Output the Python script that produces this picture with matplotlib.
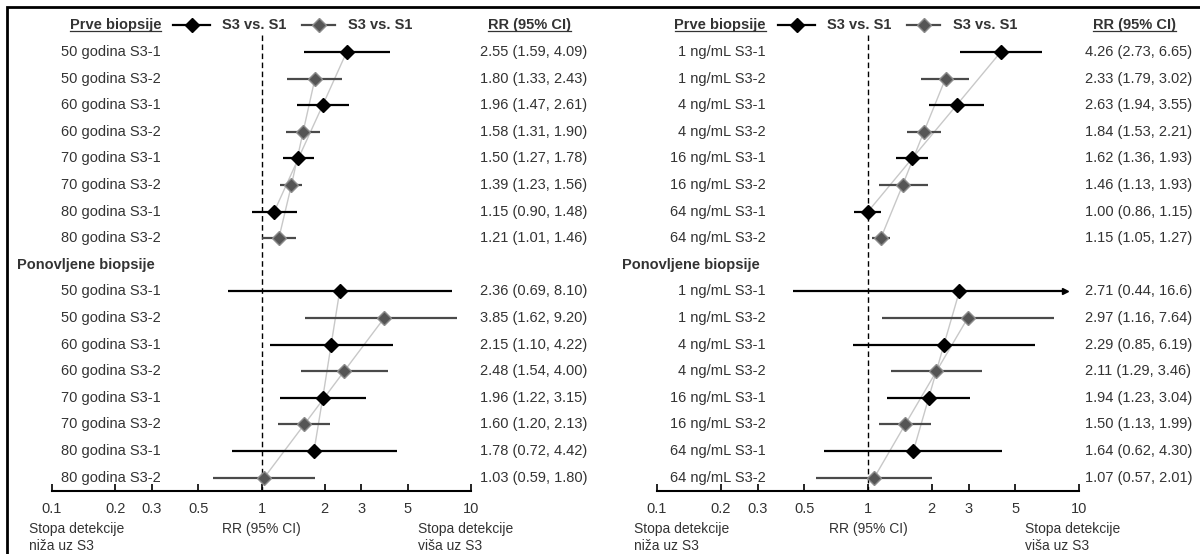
import matplotlib
matplotlib.use('Agg')
import matplotlib.pyplot as plt
from matplotlib.lines import Line2D
from matplotlib.patches import Rectangle
from matplotlib.transforms import IdentityTransform

plt.rcParams['font.family'] = ['Liberation Sans', 'DejaVu Sans']

sections = ['Prve biopsije', 'Ponovljene biopsije']
series = ['S3-1', 'S3-2']
age_groups = ['50 godina', '60 godina', '70 godina', '80 godina']
psa_groups = ['1 ng/mL', '4 ng/mL', '16 ng/mL', '64 ng/mL']
ticks = [0.1, 0.2, 0.3, 0.5, 1, 2, 3, 5, 10]
tick_labels = ['0.1', '0.2', '0.3', '0.5', '1', '2', '3', '5', '10']

# first 8 = Prve biopsije, last 8 = Ponovljene biopsije (S3-1, S3-2 per group)
age_rr = [2.55, 1.80, 1.96, 1.58, 1.50, 1.39, 1.15, 1.21,
          2.36, 3.85, 2.15, 2.48, 1.96, 1.60, 1.78, 1.03]
age_lo = [1.59, 1.33, 1.47, 1.31, 1.27, 1.23, 0.90, 1.01,
          0.69, 1.62, 1.10, 1.54, 1.22, 1.20, 0.72, 0.59]
age_hi = [4.09, 2.43, 2.61, 1.90, 1.78, 1.56, 1.48, 1.46,
          8.10, 9.20, 4.22, 4.00, 3.15, 2.13, 4.42, 1.80]

psa_rr = [4.26, 2.33, 2.63, 1.84, 1.62, 1.46, 1.00, 1.15,
          2.71, 2.97, 2.29, 2.11, 1.94, 1.50, 1.64, 1.07]
psa_lo = [2.73, 1.79, 1.94, 1.53, 1.36, 1.13, 0.86, 1.05,
          0.44, 1.16, 0.85, 1.29, 1.23, 1.13, 0.62, 0.57]
psa_hi = [6.65, 3.02, 3.55, 2.21, 1.93, 1.93, 1.15, 1.27,
          16.6, 7.64, 6.19, 3.46, 3.04, 1.99, 4.30, 2.01]

W, H = 1200, 554
FS = 10.5
TXT = '#333333'
LINE_COL = ['black', '#4a4a4a']
FACE_COL = ['black', '#555555']
EDGE_COL = ['black', '#8c8c8c']
CAP = 8.6   # where a CI beyond the axis gets an arrow

fig = plt.figure(figsize=(W / 100, H / 100), dpi=100)
underline = []


def fmt(v):
    return f'{v:.2f}' if v < 10 else f'{v:.1f}'


def panel(left_px, width_px, groups, rr, lo, hi):
    ax = fig.add_axes([left_px / W, 1 - 491 / H, width_px / W, (491 - 12) / H])
    ax.patch.set_alpha(0)
    fr = lambda px: (px - left_px) / width_px
    yt = ax.get_yaxis_transform()

    for s, sec in enumerate(sections):
        for k in range(2):
            idx = [s * 8 + 2 * g + k for g in range(4)]
            ys = [1 + s * 9 + 2 * g + k for g in range(4)]
            xs = [rr[i] for i in idx]
            ax.plot(xs, ys, color='#c8c8c8', lw=1, zorder=1)
            for i, y in zip(idx, ys):
                ax.hlines(y, lo[i], min(hi[i], CAP), color=LINE_COL[k], lw=1.6, zorder=2)
                if hi[i] > 10:
                    ax.plot(CAP, y, '>', color=LINE_COL[k], ms=5, zorder=2)
            ax.plot(xs, ys, 'D', ms=7.5, mfc=FACE_COL[k], mec=EDGE_COL[k], mew=1, zorder=3)
        for g, grp in enumerate(groups):
            for k, ser in enumerate(series):
                i = s * 8 + 2 * g + k
                y = 1 + s * 9 + 2 * g + k
                ax.text(fr(left_px + 109), y, f'{grp} {ser}', ha='right', va='center',
                        transform=yt, fontsize=FS, color=TXT)
                ax.text(fr(left_px + 428), y, f'{fmt(rr[i])} ({fmt(lo[i])}, {fmt(hi[i])})',
                        ha='left', va='center', transform=yt, fontsize=FS, color=TXT)

    t = ax.text(fr(left_px + 109), 0, sections[0], ha='right', va='center', transform=yt,
                fontsize=FS, color=TXT, fontweight='bold')
    underline.append(t)
    ax.text(fr(left_px - 35), 9, sections[1], ha='left', va='center', transform=yt,
            fontsize=FS, color=TXT, fontweight='bold')
    t = ax.text(fr(left_px + 436), 0, 'RR (95% CI)', ha='left', va='center', transform=yt,
                fontsize=FS, color=TXT, fontweight='bold')
    underline.append(t)

    # legend in the header row
    for k, (a, b, m, tx) in enumerate([(121, 158, 140, 170), (250, 283, 267, 296)]):
        ax.plot([fr(left_px + a), fr(left_px + b)], [0, 0], color=LINE_COL[k], lw=1.6,
                transform=yt, clip_on=False)
        ax.plot(fr(left_px + m), 0, 'D', ms=7.5, mfc=FACE_COL[k], mec=EDGE_COL[k],
                transform=yt, clip_on=False)
        ax.text(fr(left_px + tx), 0, 'S3 vs. S1', ha='left', va='center', transform=yt,
                fontsize=FS, color=TXT, fontweight='bold')

    ax.vlines(1, 0.35, 17.5, color='black', lw=1, linestyles=(0, (4, 2.5)), zorder=1)

    ax.set_xscale('log')
    ax.set_xlim(0.1, 10)
    ax.set_ylim(17.5, -0.5)
    ax.set_xticks(ticks)
    ax.set_xticklabels(tick_labels)
    ax.minorticks_off()
    ax.tick_params(axis='x', direction='in', length=5, width=1.2, pad=8,
                   labelsize=FS, labelcolor=TXT)
    ax.set_yticks([])
    for sp in ['left', 'right', 'top']:
        ax.spines[sp].set_visible(False)
    ax.spines['bottom'].set_linewidth(1.5)

    ax.text(fr(left_px - 23), -0.065, 'Stopa detekcije\nniža uz S3', ha='left', va='top',
            transform=ax.transAxes, fontsize=FS - 0.5, color=TXT, linespacing=1.25)
    ax.text(0.5, -0.065, 'RR (95% CI)', ha='center', va='top',
            transform=ax.transAxes, fontsize=FS - 0.5, color=TXT)
    ax.text(0.873, -0.065, 'Stopa detekcije\nviša uz S3', ha='left', va='top',
            transform=ax.transAxes, fontsize=FS - 0.5, color=TXT, linespacing=1.25)
    return ax


panel(52, 419, age_groups, age_rr, age_lo, age_hi)
panel(657, 422, psa_groups, psa_rr, psa_lo, psa_hi)

fig.add_artist(Rectangle((7 / W, 1 - 570 / H), 1220 / W, 563 / H, fill=False,
                         edgecolor='black', lw=2, transform=fig.transFigure))

fig.canvas.draw()
r = fig.canvas.get_renderer()
for t in underline:
    bb = t.get_window_extent(r)
    fig.add_artist(Line2D([bb.x0, bb.x1], [bb.y0 + 1, bb.y0 + 1], color=TXT, lw=0.9,
                          transform=IdentityTransform()))

fig.savefig('out.png', dpi=100)
